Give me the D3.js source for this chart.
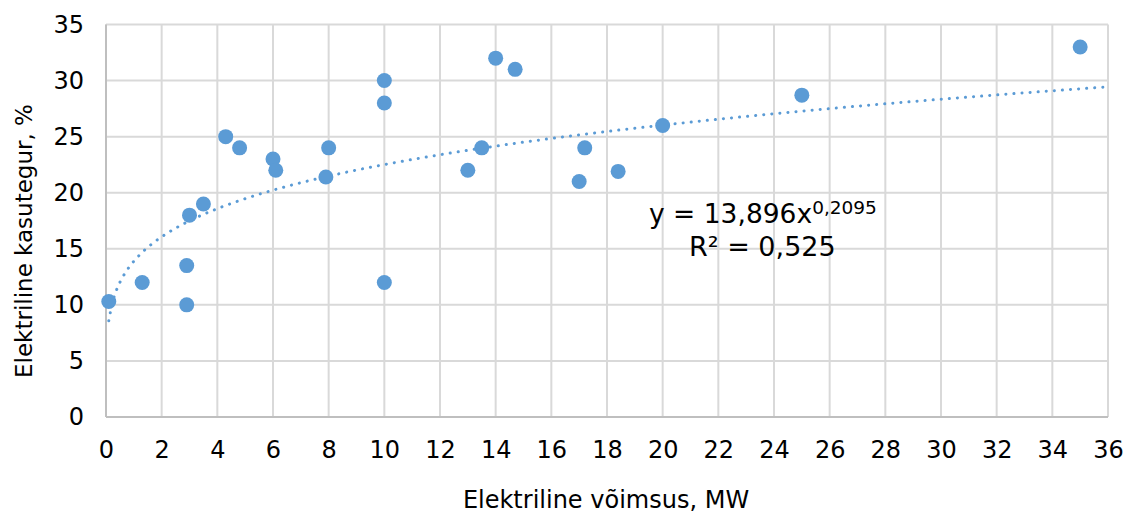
<!DOCTYPE html>
<html><head><meta charset="utf-8">
<script src="https://cdn.jsdelivr.net/npm/d3@7"></script>
<style>
html,body{margin:0;padding:0;background:#fff;}
text{font-family:"DejaVu Sans",Verdana,sans-serif;}
</style></head>
<body><svg id="chart" width="1127" height="515"></svg>
<script>
const xValues = [0.1,1.3,2.9,2.9,3.0,3.5,4.3,4.8,6.0,6.1,7.9,8.0,10,10,10,13.0,13.5,14.0,14.7,17.0,17.2,18.4,20.0,25.0,35.0];
const yValues = [10.3,12.0,13.5,10.0,18.0,19.0,25.0,24.0,23.0,22.0,21.4,24.0,30.0,28.0,12.0,22.0,24.0,32.0,31.0,21.0,24.0,21.9,26.0,28.7,33.0];
const xTicks = [0,2,4,6,8,10,12,14,16,18,20,22,24,26,28,30,32,34,36];
const yTicks = [0,5,10,15,20,25,30,35];
const trendA = 13.896, trendB = 0.2095;
const xTitle = "Elektriline võimsus, MW";
const yTitle = "Elektriline kasutegur, %";

(function(){
const svg = d3.select("#chart");
const pL = 106, pR = 1108, pT = 24.5, pB = 417;
const x = d3.scaleLinear().domain([0,36]).range([pL,pR]);
const y = d3.scaleLinear().domain([0,35]).range([pB,pT]);
const FF = "'DejaVu Sans',Verdana,sans-serif";

// grid
svg.append("g").selectAll("line").data(yTicks).join("line")
  .attr("x1",pL).attr("x2",pR).attr("y1",d=>y(d)).attr("y2",d=>y(d))
  .attr("stroke","#d9d9d9").attr("stroke-width",2);
svg.append("g").selectAll("line").data(xTicks).join("line")
  .attr("y1",pT).attr("y2",pB).attr("x1",d=>x(d)).attr("x2",d=>x(d))
  .attr("stroke","#d9d9d9").attr("stroke-width",2);
// axis lines
svg.append("line").attr("x1",pL).attr("x2",pR).attr("y1",pB).attr("y2",pB).attr("stroke","#bfbfbf").attr("stroke-width",2);
svg.append("line").attr("x1",pL).attr("x2",pL).attr("y1",pT).attr("y2",pB).attr("stroke","#bfbfbf").attr("stroke-width",2);

// axes labels via d3 axes
const xAxis = svg.append("g").attr("transform",`translate(0,${pB})`)
  .call(d3.axisBottom(x).tickValues(xTicks).tickSize(0).tickPadding(24).tickFormat(d3.format("d")));
xAxis.select(".domain").remove();
xAxis.selectAll("text").attr("font-size",24).attr("fill","#000").attr("font-family",FF);
const yAxis = svg.append("g").attr("transform",`translate(${pL},0)`)
  .call(d3.axisLeft(y).tickValues(yTicks).tickSize(0).tickPadding(22).tickFormat(d3.format("d")));
yAxis.select(".domain").remove();
yAxis.selectAll("text").attr("font-size",24).attr("fill","#000").attr("font-family",FF);

// trendline
const tx = d3.range(0, 361).map(i => 0.1 + i*(36-0.1)/360);
const line = d3.line().x(d=>x(d)).y(d=>y(trendA*Math.pow(d,trendB))).curve(d3.curveLinear);
svg.append("path").datum(tx).attr("d",line).attr("fill","none")
  .attr("stroke","#5b9bd5").attr("stroke-width",3).attr("stroke-linecap","round")
  .attr("stroke-dasharray","0.1 8");

// points
svg.append("g").selectAll("circle").data(xValues.map((d,i)=>[d,yValues[i]])).join("circle")
  .attr("cx",d=>x(d[0])).attr("cy",d=>y(d[1])).attr("r",7.5).attr("fill","#5b9bd5");

// equation
const eq = svg.append("text").attr("x",649).attr("y",223).attr("font-size",26.5).attr("fill","#000");
eq.append("tspan").text("y = 13,896x");
eq.append("tspan").attr("font-size",18.5).attr("dy",-9).text("0,2095");
svg.append("text").attr("x",689).attr("y",256).attr("font-size",27).attr("fill","#000").text("R² = 0,525");

// titles
svg.append("text").attr("x",606).attr("y",508).attr("text-anchor","middle").attr("font-size",24).attr("fill","#000").text(xTitle);
svg.append("text").attr("transform",`translate(32,241) rotate(-90)`).attr("text-anchor","middle").attr("font-size",23).attr("fill","#000").text(yTitle);
})();
</script></body></html>
